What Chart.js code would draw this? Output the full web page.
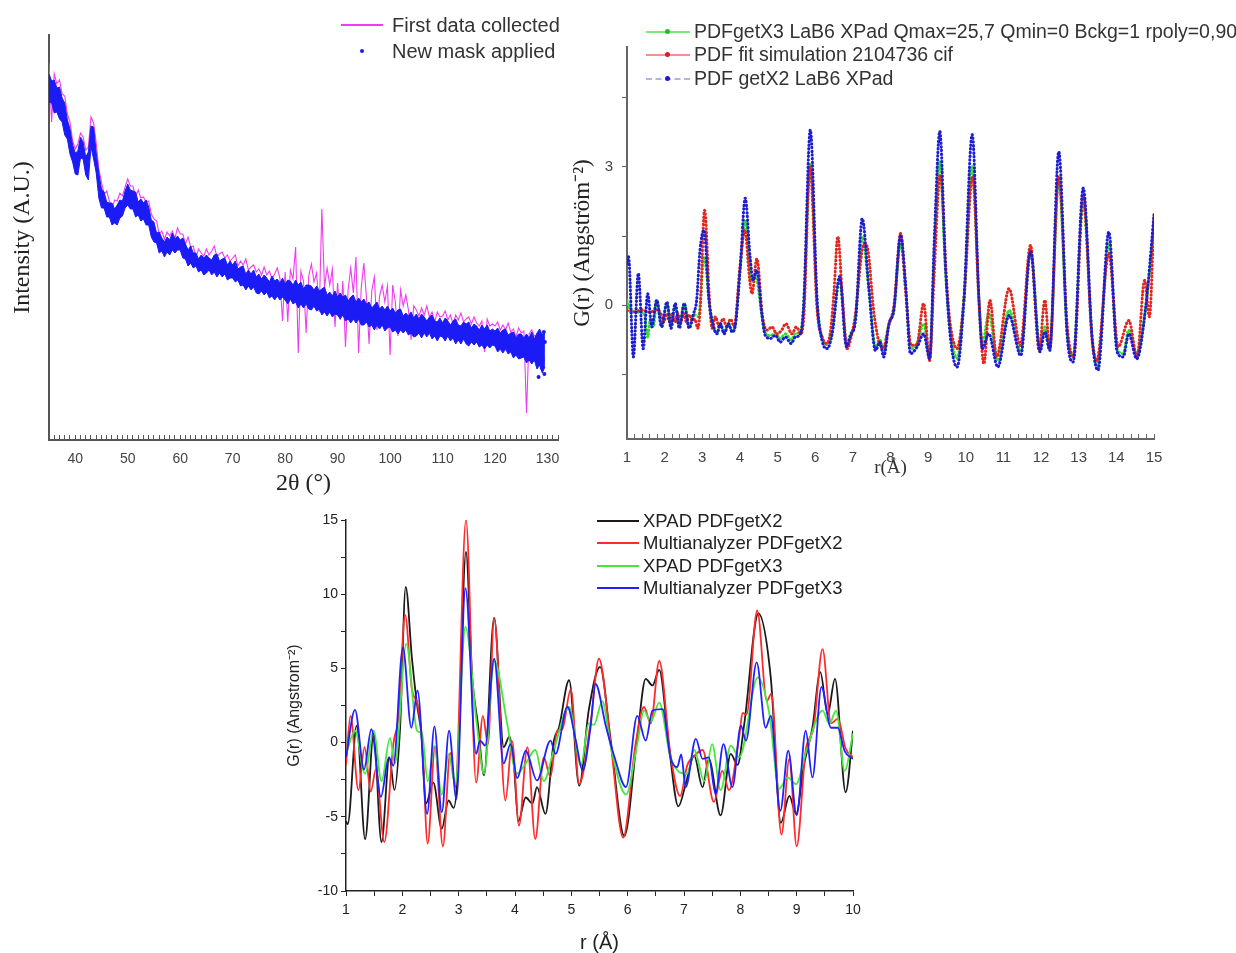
<!DOCTYPE html>
<html>
<head>
<meta charset="utf-8">
<title>XRD pattern and PDF comparison</title>
<script src="https://cdn.jsdelivr.net/npm/chart.js@4.4.1/dist/chart.umd.min.js"></script>
<style>
  html, body { margin: 0; padding: 0; background: #fff; }
  body { position: relative; width: 1236px; height: 953px; overflow: hidden; font-family: "Liberation Sans", Arial, sans-serif; }
  canvas { position: absolute; }
  .leg { position: absolute; white-space: nowrap; color: #333; line-height: 1; transform: translateY(-50%); }
  .sym { position: absolute; }
</style>
</head>
<body>
<canvas id="xrdChart" width="580" height="500" style="left:0px;top:0px"></canvas>
<canvas id="pdfChart" width="676" height="500" style="left:560px;top:0px"></canvas>
<canvas id="compareChart" width="600" height="453" style="left:270px;top:500px"></canvas>

<!-- legende du diffractogramme -->
<div class="sym" style="left:341px;top:24px;width:42px;height:2px;background:#f03cf0"></div>
<div class="leg" style="left:392px;top:25px;font-size:20px">First data collected</div>
<div class="sym" style="left:360px;top:49px;width:4px;height:4px;border-radius:50%;background:#1b1bf5"></div>
<div class="leg" style="left:392px;top:51px;font-size:20px">New mask applied</div>

<!-- legende PDF LaB6 -->
<div class="sym" style="left:646px;top:31px;width:44px;height:1.5px;background:#7be87b"></div>
<div class="sym" style="left:665px;top:29px;width:5px;height:5px;border-radius:50%;background:#1fc01f"></div>
<div class="leg" style="left:694px;top:32px;font-size:19.5px">PDFgetX3 LaB6 XPad Qmax=25,7 Qmin=0 Bckg=1 rpoly=0,90</div>
<div class="sym" style="left:646px;top:54px;width:44px;height:1.5px;background:#f09090"></div>
<div class="sym" style="left:665px;top:52px;width:5px;height:5px;border-radius:50%;background:#d42020"></div>
<div class="leg" style="left:694px;top:55px;font-size:19.5px">PDF fit simulation 2104736 cif</div>
<div class="sym" style="left:646px;top:78px;width:44px;height:0;border-top:2px dashed #b4b4e4"></div>
<div class="sym" style="left:665px;top:76px;width:5px;height:5px;border-radius:50%;background:#1c1cd0"></div>
<div class="leg" style="left:694px;top:79px;font-size:19.5px">PDF getX2 LaB6 XPad</div>

<!-- legende comparaison -->
<div class="sym" style="left:597px;top:520px;width:42px;height:2px;background:#1a1a1a"></div>
<div class="leg" style="left:643px;top:521px;font-size:18.5px;color:#222">XPAD PDFgetX2</div>
<div class="sym" style="left:597px;top:542px;width:42px;height:2px;background:#ff2a2a"></div>
<div class="leg" style="left:643px;top:543px;font-size:18.5px;color:#222">Multianalyzer PDFgetX2</div>
<div class="sym" style="left:597px;top:565px;width:42px;height:2px;background:#44e83a"></div>
<div class="leg" style="left:643px;top:566px;font-size:18.5px;color:#222">XPAD PDFgetX3</div>
<div class="sym" style="left:597px;top:587px;width:42px;height:2px;background:#2020ff"></div>
<div class="leg" style="left:643px;top:588px;font-size:18.5px;color:#222">Multianalyzer PDFgetX3</div>

<script>
// --- Données ---

// diffractogramme : balayage 2θ de 35° à 129.5°, pas de 0.5°
const thetaStart = 35;
const thetaStep = 0.5;

// bande bleue "New mask applied" : bord haut et bord bas (unités arbitraires)
const maskUpper = [
  366,359,360,352,353,342,337,320,311,295,
  287,289,303,298,283,288,314,313,287,267,
  251,248,238,237,237,231,235,240,239,249,
  256,250,249,248,238,241,237,240,233,220,
  218,207,208,202,198,203,200,207,201,204,
  200,202,196,190,194,187,187,181,185,182,
  185,182,180,185,186,179,181,182,175,179,
  175,179,171,173,174,166,170,166,170,163,
  166,161,165,162,158,164,159,161,157,162,
  156,160,159,155,160,155,158,151,155,155,
  154,150,154,149,151,153,145,148,144,149,
  143,147,143,145,139,143,145,138,142,138,
  141,136,138,132,135,138,131,134,130,134,
  129,132,127,130,131,124,127,124,128,122,
  126,121,126,123,119,123,125,119,118,122,
  117,122,119,115,119,121,115,114,118,116,
  118,112,116,114,110,115,111,115,109,111,
  109,112,107,110,111,105,107,108,102,106,
  106,102,106,102,108,101,107,111,105,109
];
const maskLower = [
  338,337,327,328,321,318,305,301,286,278,
  266,265,282,281,265,260,293,281,267,242,
  232,232,223,223,215,217,215,222,224,232,
  235,231,231,223,225,219,221,215,215,203,
  198,197,187,189,183,188,185,190,187,190,
  190,182,181,174,177,172,174,168,170,165,
  167,170,165,168,163,167,163,166,160,162,
  162,158,160,154,155,150,154,150,153,147,
  146,149,145,148,142,144,140,144,140,143,
  140,136,141,136,138,132,136,132,136,131,
  130,134,129,131,125,128,124,128,123,126,
  125,121,125,119,121,117,121,117,121,115,
  115,118,113,115,110,115,111,115,109,112,
  113,108,110,106,110,107,110,105,107,103,
  104,107,102,107,103,107,101,104,99,104,
  103,99,104,99,102,96,100,96,101,96,
  94,98,95,98,93,95,91,95,92,95,
  94,88,91,87,91,86,88,82,85,81,
  82,83,77,80,76,80,71,75,67,73
];
// points bleus isolés en fin de balayage
const maskOutliers = [[128.3, 63], [128.9, 72], [129.1, 80], [129.3, 108], [129.4, 66], [129.5, 98]];

// courbe magenta "First data collected"
const firstData = [
  377,318,366,356,360,346,344,326,318,299,
  291,296,307,303,290,293,323,317,297,271,
  258,246,249,239,231,240,239,247,244,253,
  261,254,254,243,250,242,243,238,239,226,
  221,219,206,209,201,208,204,209,202,212,
  206,206,196,203,193,194,183,191,187,184,
  191,185,189,194,183,186,188,182,185,179,
  182,185,174,179,175,181,170,173,175,168,
  171,165,173,165,169,161,166,172,162,119,
  168,118,170,161,193,87,169,159,107,164,
  176,158,167,128,231,153,172,155,171,113,
  157,120,159,93,150,172,147,183,87,152,
  177,142,96,149,163,110,144,155,138,154,
  85,155,138,104,150,134,145,130,100,134,
  130,124,132,125,134,123,128,118,128,123,
  124,129,120,125,116,125,120,127,118,121,
  123,116,123,117,114,119,88,121,114,116,
  114,118,110,115,110,117,108,111,103,112,
  107,109,27,106,110,104,105,null,null,null
];

// PDF LaB6 : paires [r (Å), G(r)]
const getX3LaB6 = [
  [1.0,0.11],[1.05,-0.02],[1.15,-0.14],[1.3,-0.15],[1.45,-0.17],[1.55,-0.69],[1.62,-0.3],[1.7,-0.47],
  [1.79,0.11],[1.92,-0.45],[2.06,0.05],[2.17,-0.45],[2.28,0.03],[2.39,-0.45],[2.52,0.03],[2.65,-0.45],
  [2.77,-0.2],[2.9,-0.25],[3.05,1.05],[3.2,-0.04],[3.3,-0.45],[3.39,-0.6],[3.48,-0.4],[3.58,-0.6],
  [3.7,-0.4],[3.79,-0.56],[3.87,-0.45],[4.01,0.8],[4.14,1.85],[4.3,0.5],[4.42,0.62],[4.58,-0.2],
  [4.67,-0.6],[4.81,-0.66],[4.94,-0.6],[5.07,-0.72],[5.21,-0.62],[5.36,-0.75],[5.47,-0.62],[5.61,-0.56],
  [5.69,-0.04],[5.87,3.08],[6.05,0.1],[6.18,-0.7],[6.32,-0.85],[6.45,-0.58],[6.65,0.54],[6.83,-0.85],
  [6.94,-0.62],[7.07,-0.3],[7.25,1.49],[7.42,0.4],[7.6,-0.9],[7.72,-0.75],[7.82,-1.0],[7.96,-0.4],
  [8.09,-0.1],[8.27,1.34],[8.4,0.4],[8.53,-0.95],[8.71,-0.82],[8.88,-0.4],[9.04,-1.1],[9.17,1.3],
  [9.31,3.12],[9.46,0.75],[9.59,-0.55],[9.77,-1.15],[9.95,0.1],[10.17,3.0],[10.35,0.1],[10.44,-0.85],
  [10.61,-0.18],[10.85,-1.2],[11.15,-0.11],[11.46,-1.0],[11.72,1.2],[11.97,-0.9],[12.1,-0.47],[12.23,-0.9],
  [12.47,2.72],[12.69,-0.55],[12.85,-1.1],[13.12,2.2],[13.36,-0.7],[13.51,-1.3],[13.8,1.34],[14.02,-0.95],
  [14.18,-1.05],[14.33,-0.54],[14.54,-1.05],[14.78,-0.05],[15.0,1.7]
];
const fitSimulation = [
  [1.0,-0.12],[1.2,-0.14],[1.4,-0.1],[1.6,-0.15],[1.79,-0.1],[1.9,-0.18],[1.98,-0.36],[2.05,-0.18],
  [2.13,-0.36],[2.2,-0.18],[2.28,-0.36],[2.35,-0.18],[2.43,-0.36],[2.5,-0.18],[2.58,-0.36],[2.65,-0.2],
  [2.73,-0.34],[2.8,-0.3],[2.88,-0.5],[2.95,0.0],[3.06,2.06],[3.2,-0.04],[3.26,-0.5],[3.35,-0.25],
  [3.45,-0.47],[3.55,-0.29],[3.65,-0.47],[3.75,-0.3],[3.85,-0.47],[4.0,0.83],[4.13,1.63],[4.26,0.54],
  [4.32,0.25],[4.45,1.01],[4.6,-0.25],[4.72,-0.54],[4.85,-0.47],[4.98,-0.62],[5.1,-0.55],[5.22,-0.4],
  [5.38,-0.62],[5.5,-0.47],[5.62,-0.62],[5.7,-0.2],[5.86,3.0],[6.05,-0.1],[6.2,-0.72],[6.3,-0.83],
  [6.4,-0.6],[6.5,0.3],[6.6,1.49],[6.72,0.2],[6.85,-0.94],[6.95,-0.7],[7.05,-0.3],[7.3,1.34],
  [7.4,1.2],[7.55,-0.1],[7.68,-0.76],[7.8,-0.94],[7.95,-0.45],[8.1,0.04],[8.27,1.56],[8.4,0.3],
  [8.55,-0.87],[8.7,-0.85],[8.88,0.04],[9.04,-1.2],[9.15,0.5],[9.32,2.83],[9.5,0.4],[9.58,-0.36],
  [9.77,-0.94],[9.95,0.11],[10.18,2.79],[10.35,0.11],[10.48,-1.27],[10.64,0.11],[10.82,-1.12],[11.15,0.36],
  [11.45,-0.87],[11.72,1.3],[11.95,-0.98],[12.1,0.11],[12.23,-0.94],[12.47,2.79],[12.7,-0.5],[12.87,-1.12],
  [13.12,2.36],[13.35,-0.69],[13.48,-1.2],[13.8,1.12],[14.05,-0.9],[14.33,-0.33],[14.55,-1.12],[14.75,0.54],
  [14.88,-0.25],[15.0,1.92]
];
const getX2LaB6 = [
  [1.0,0.9],[1.04,1.05],[1.17,-1.12],[1.3,0.69],[1.43,-0.94],[1.55,0.25],[1.66,-0.47],[1.79,0.11],
  [1.92,-0.47],[2.06,0.07],[2.17,-0.5],[2.28,0.04],[2.39,-0.5],[2.52,0.04],[2.65,-0.5],[2.77,-0.18],
  [2.85,0.11],[2.94,1.2],[3.05,1.63],[3.17,0.18],[3.3,-0.47],[3.39,-0.62],[3.48,-0.4],[3.58,-0.62],
  [3.7,-0.4],[3.79,-0.58],[3.87,-0.47],[4.01,0.83],[4.14,2.32],[4.27,1.05],[4.35,0.54],[4.45,0.76],
  [4.58,-0.18],[4.67,-0.65],[4.81,-0.72],[4.94,-0.65],[5.07,-0.8],[5.21,-0.69],[5.36,-0.83],[5.47,-0.69],
  [5.61,-0.62],[5.69,-0.04],[5.87,3.8],[6.05,0.11],[6.18,-0.76],[6.32,-0.94],[6.45,-0.62],[6.65,0.62],
  [6.83,-0.9],[6.94,-0.65],[7.07,-0.33],[7.25,1.88],[7.42,0.4],[7.6,-0.98],[7.72,-0.8],[7.82,-1.12],
  [7.96,-0.4],[8.09,-0.1],[8.27,1.52],[8.4,0.47],[8.53,-1.05],[8.71,-0.9],[8.88,-0.62],[9.04,-1.16],
  [9.17,1.56],[9.31,3.77],[9.46,0.83],[9.59,-0.69],[9.77,-1.34],[9.95,0.11],[10.17,3.7],[10.35,0.11],
  [10.44,-0.94],[10.61,-0.62],[10.85,-1.34],[11.15,-0.22],[11.46,-1.09],[11.72,1.16],[11.97,-1.01],[12.1,-0.58],
  [12.23,-0.98],[12.47,3.33],[12.69,-0.62],[12.85,-1.23],[13.12,2.54],[13.36,-0.76],[13.51,-1.41],[13.8,1.59],
  [14.02,-1.01],[14.18,-1.12],[14.33,-0.62],[14.54,-1.16],[14.78,-0.04],[15.0,1.96]
];
const pdfYTicks = [-1.5, 0, 1.5, 3, 4.5];

// comparaison XPAD / multianalyseur : paires [r (Å), G(r)]
const xpadGetX2 = [
  [1.0,-5.3],[1.03,-5.5],[1.19,1.15],[1.34,-6.5],[1.49,0.6],[1.63,-6.7],[1.77,-1.0],[1.86,-3.2],
  [1.96,1.0],[2.06,10.5],[2.17,5.7],[2.26,2.6],[2.34,0.5],[2.42,-4.1],[2.55,-2.7],[2.7,-5.8],
  [2.82,-3.9],[2.91,-4.4],[2.98,-2.3],[3.13,12.85],[3.24,4.4],[3.34,1.3],[3.45,-2.2],[3.63,8.4],
  [3.8,-0.3],[3.9,0.4],[3.98,-1.5],[4.06,-5.3],[4.19,-3.7],[4.31,-4.1],[4.39,-3.0],[4.54,-4.8],
  [4.69,0.13],[4.78,1.0],[4.96,4.2],[5.14,-2.9],[5.31,2.2],[5.51,5.1],[5.7,0.13],[5.94,-6.3],
  [6.17,0.36],[6.32,4.3],[6.44,3.85],[6.56,4.9],[6.74,-0.5],[6.9,-4.3],[7.03,-2.8],[7.18,-0.9],
  [7.33,-3.0],[7.44,-1.1],[7.65,-4.9],[7.83,-0.76],[7.95,-1.5],[8.07,1.26],[8.32,8.7],[8.54,4.4],
  [8.72,-5.4],[8.87,-3.6],[8.99,-4.8],[9.13,-1.5],[9.28,1.0],[9.42,4.75],[9.55,1.9],[9.68,4.3],
  [9.87,-3.35],[10.0,0.8]
];
const multiGetX2 = [
  [1.0,-1.5],[1.08,1.8],[1.22,-3.2],[1.33,-0.3],[1.44,-3.3],[1.53,-1.8],[1.68,-6.7],[1.84,-0.1],
  [1.93,1.7],[2.05,8.6],[2.17,3.6],[2.27,2.6],[2.35,0.2],[2.45,-6.8],[2.58,-0.3],[2.72,-7.0],
  [2.85,-0.7],[2.94,-3.0],[3.13,15.0],[3.31,-2.7],[3.43,1.8],[3.52,-0.1],[3.63,8.4],[3.83,-3.9],
  [3.95,0.1],[4.07,-5.6],[4.22,-0.3],[4.36,-6.5],[4.51,-1.0],[4.63,-2.3],[4.75,0.8],[4.84,0.9],
  [4.99,3.6],[5.14,-2.8],[5.34,1.3],[5.49,5.65],[5.7,-0.1],[5.92,-6.4],[6.14,-0.1],[6.29,2.4],
  [6.41,1.3],[6.56,5.5],[6.76,-0.8],[6.93,-3.6],[7.06,-1.5],[7.21,-0.8],[7.33,-0.5],[7.53,-4.0],
  [7.68,-1.9],[7.8,-3.2],[7.98,0.4],[8.04,2.0],[8.11,1.9],[8.3,8.9],[8.47,2.8],[8.55,3.3],
  [8.73,-6.2],[8.87,-1.1],[9.0,-7.0],[9.16,-0.5],[9.3,1.0],[9.46,6.3],[9.61,1.3],[9.73,1.6],
  [9.87,-0.4],[10.0,-1.0]
];
const xpadGetX3 = [
  [1.0,-0.8],[1.16,0.8],[1.34,-2.1],[1.49,0.8],[1.63,-2.6],[1.78,0.3],[1.87,-1.4],[2.07,6.65],
  [2.26,0.8],[2.35,0.6],[2.45,-2.6],[2.57,-0.2],[2.7,-3.5],[2.82,-0.8],[2.94,-2.8],[3.12,7.8],
  [3.32,1.3],[3.45,-2.1],[3.63,5.5],[3.86,1.3],[4.03,-2.1],[4.19,-1.4],[4.36,-0.5],[4.51,-2.6],
  [4.69,-0.5],[4.96,2.4],[5.17,-1.55],[5.31,1.3],[5.4,1.2],[5.55,2.8],[5.7,-0.3],[5.97,-3.5],
  [6.17,-0.1],[6.29,2.15],[6.41,1.4],[6.56,2.7],[6.76,-1.0],[7.06,-2.1],[7.18,-0.5],[7.36,-2.6],
  [7.5,-0.1],[7.65,-3.2],[7.83,-0.2],[7.98,-1.0],[8.31,4.4],[8.51,2.05],[8.69,-3.1],[8.84,-2.35],
  [8.99,-2.8],[9.16,-0.7],[9.46,2.15],[9.58,1.26],[9.7,2.15],[9.85,-1.9],[10.0,0.6]
];
const multiGetX3 = [
  [1.0,-1.0],[1.16,2.2],[1.32,-1.8],[1.45,0.9],[1.62,-3.65],[1.76,-1.0],[1.84,-1.55],[2.01,6.4],
  [2.16,1.0],[2.27,3.5],[2.44,-4.8],[2.57,1.1],[2.7,-4.7],[2.83,0.8],[2.96,-3.8],[3.12,10.4],
  [3.31,-0.76],[3.38,0.13],[3.47,-0.2],[3.63,5.65],[3.8,-1.4],[3.92,-0.1],[4.04,-2.4],[4.19,-0.55],
  [4.39,-2.55],[4.63,0.13],[4.72,-0.76],[4.93,2.4],[5.08,0.13],[5.2,-1.9],[5.34,1.0],[5.43,3.95],
  [5.61,1.15],[5.76,-0.9],[5.97,-3.0],[6.17,1.8],[6.32,0.13],[6.44,2.15],[6.62,2.25],[6.76,-1.0],
  [6.88,-1.65],[6.95,-0.8],[7.03,-3.0],[7.21,0.25],[7.33,-1.1],[7.44,-1.0],[7.56,-3.45],[7.7,-0.1],
  [7.86,-3.0],[8.01,1.15],[8.1,0.13],[8.29,5.4],[8.45,1.0],[8.54,1.8],[8.71,-4.6],[8.85,-0.55],
  [9.0,-4.9],[9.16,0.8],[9.28,-2.35],[9.44,3.75],[9.61,1.0],[9.73,1.0],[9.85,-0.55],[10.0,-1.1]
];

// --- Outils ---
const SANS = '"Liberation Sans", Arial, sans-serif';
const SERIF = '"Liberation Serif", "Times New Roman", serif';

function onGrid(values) {
    return values.map((v, i) => ({ x: thetaStart + i * thetaStep, y: v }));
}
function fromPairs(pairs) {
    return pairs.map(p => ({ x: p[0], y: p[1] }));
}
function isWhole(v, every) {
    const r = Math.round(v);
    return Math.abs(v - r) < 1e-6 && r % every === 0;
}

const baseOptions = {
    responsive: false,
    animation: false,
    events: [],
    plugins: { legend: { display: false }, tooltip: { enabled: false } }
};

// --- Diffractogramme ---
new Chart(document.getElementById("xrdChart"), {
    type: 'line',
    data: {
        datasets: [
            { label: 'New mask applied', data: onGrid(maskUpper), borderColor: '#1b1bf5', backgroundColor: '#1b1bf5',
              borderWidth: 1, pointRadius: 0, fill: '+1', order: 1 },
            { label: 'mask lower edge', data: onGrid(maskLower), borderColor: '#1b1bf5',
              borderWidth: 1, pointRadius: 0, fill: false, order: 2 },
            { label: 'First data collected', data: onGrid(firstData), borderColor: '#f03cf0',
              borderWidth: 1.1, pointRadius: 0, fill: false, spanGaps: false, order: 3 },
            { label: 'mask outliers', data: fromPairs(maskOutliers), showLine: false, pointRadius: 2,
              pointBackgroundColor: '#1b1bf5', pointBorderWidth: 0, order: 0 }
        ]
    },
    options: {
        ...baseOptions,
        layout: { padding: { top: 35, right: 22, bottom: 0, left: 0 } },
        scales: {
            x: {
                type: 'linear', min: 35, max: 132,
                afterFit: s => { s.height = 60; },
                border: { display: true, color: '#555', width: 2 },
                // graduations tournées vers l'intérieur, comme sur l'original
                grid: { drawOnChartArea: false, tickLength: -5, color: '#555' },
                ticks: {
                    stepSize: 1, autoSkip: false, maxRotation: 0, maxTicksLimit: 1000, padding: 16,
                    color: '#444', font: { family: SANS, size: 14 },
                    callback: v => isWhole(v, 10) ? String(Math.round(v)) : ''
                },
                title: { display: true, text: '2θ (°)', color: '#222',
                         font: { family: SERIF, size: 24 }, padding: { top: 0, bottom: 2 } }
            },
            y: {
                min: 0, max: 405,
                afterFit: s => { s.width = 49; },
                border: { display: true, color: '#555', width: 2 },
                grid: { display: false },
                ticks: { display: false },
                title: { display: true, text: 'Intensity (A.U.)', color: '#222',
                         font: { family: SERIF, size: 24 }, padding: { top: 8, bottom: 0 } }
            }
        }
    }
});

// --- PDF LaB6 ---
function pdfLine(label, pairs, color, order) {
    return { label: label, data: fromPairs(pairs), borderColor: color, borderWidth: 3,
             borderDash: [0.5, 3.2], borderCapStyle: 'round', pointRadius: 0,
             cubicInterpolationMode: 'monotone', fill: false, order: order };
}
new Chart(document.getElementById("pdfChart"), {
    type: 'line',
    data: {
        datasets: [
            pdfLine('PDF getX2 LaB6 XPad', getX2LaB6, '#1c1cd0', 1),
            pdfLine('PDF fit simulation 2104736 cif', fitSimulation, '#e3261f', 2),
            pdfLine('PDFgetX3 LaB6 XPad Qmax=25,7 Qmin=0 Bckg=1 rpoly=0,90', getX3LaB6, '#2ee02e', 3)
        ]
    },
    options: {
        ...baseOptions,
        layout: { padding: { top: 47, right: 82, bottom: 0, left: 0 } },
        scales: {
            x: {
                type: 'linear', min: 1, max: 15,
                afterFit: s => { s.height = 61; },
                border: { display: true, color: '#666', width: 2 },
                grid: { drawOnChartArea: false, tickLength: -5, color: '#666' },
                ticks: {
                    stepSize: 0.2, autoSkip: false, maxRotation: 0, maxTicksLimit: 1000, padding: 15,
                    color: '#444', font: { family: SANS, size: 15 },
                    callback: v => isWhole(v, 1) ? String(Math.round(v)) : ''
                },
                title: { display: true, text: 'r(Å)', color: '#333',
                         font: { family: SERIF, size: 19 }, padding: { top: 0, bottom: 21 } }
            },
            y: {
                min: -2.9, max: 5.6,
                afterFit: s => { s.width = 67; },
                afterBuildTicks: s => { s.ticks = pdfYTicks.map(v => ({ value: v })); },
                border: { display: true, color: '#666', width: 2 },
                grid: { drawOnChartArea: false, tickLength: 5, color: '#666' },
                ticks: {
                    padding: 9, color: '#444', font: { family: SANS, size: 15 },
                    callback: v => (v === 0 || v === 3) ? String(v) : ''
                },
                title: { display: true, text: 'G(r) (Angström⁻²)', color: '#222',
                         font: { family: SERIF, size: 23 }, padding: { top: 9, bottom: 0 } }
            }
        }
    }
});

// --- Comparaison XPAD / multianalyseur ---
function cmpLine(label, pairs, color, order) {
    return { label: label, data: fromPairs(pairs), borderColor: color, borderWidth: 1.8,
             pointRadius: 0, cubicInterpolationMode: 'monotone', fill: false, order: order };
}
new Chart(document.getElementById("compareChart"), {
    type: 'line',
    data: {
        datasets: [
            cmpLine('XPAD PDFgetX2', xpadGetX2, '#1a1a1a', 4),
            cmpLine('Multianalyzer PDFgetX2', multiGetX2, '#ff2a2a', 3),
            cmpLine('XPAD PDFgetX3', xpadGetX3, '#44e83a', 2),
            cmpLine('Multianalyzer PDFgetX3', multiGetX3, '#2020ff', 1)
        ]
    },
    options: {
        ...baseOptions,
        layout: { padding: { top: 20, right: 17, bottom: 0, left: 0 } },
        scales: {
            x: {
                type: 'linear', min: 1, max: 10,
                afterFit: s => { s.height = 62; },
                border: { display: true, color: '#222', width: 1.5 },
                grid: { drawOnChartArea: false, tickLength: 5, color: '#222' },
                ticks: {
                    stepSize: 0.5, autoSkip: false, maxRotation: 0, maxTicksLimit: 1000, padding: 6,
                    color: '#222', font: { family: SANS, size: 14 },
                    callback: v => isWhole(v, 1) ? String(Math.round(v)) : ''
                },
                title: { display: true, text: 'r (Å)', color: '#222',
                         font: { family: SANS, size: 20, lineHeight: 1 }, padding: { top: 0, bottom: 0 } }
            },
            y: {
                min: -10, max: 15,
                afterFit: s => { s.width = 76; },
                border: { display: true, color: '#222', width: 1.5 },
                grid: { drawOnChartArea: false, tickLength: 5, color: '#222' },
                ticks: {
                    stepSize: 2.5, autoSkip: false, maxTicksLimit: 1000, padding: 3,
                    color: '#222', font: { family: SANS, size: 14 },
                    callback: v => isWhole(v, 5) ? String(Math.round(v)) : ''
                },
                title: { display: true, text: 'G(r) (Angstrom⁻²)', color: '#222',
                         font: { family: SANS, size: 16 }, padding: { top: 15, bottom: 0 } }
            }
        }
    }
});
</script>
</body>
</html>
